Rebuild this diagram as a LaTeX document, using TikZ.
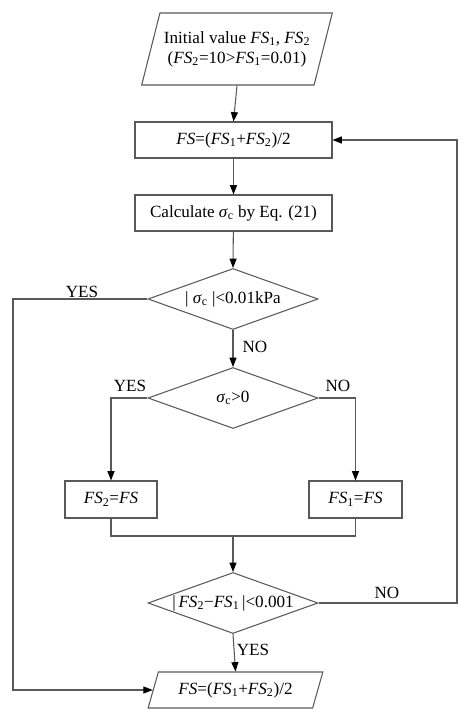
\documentclass[tikz,border=0pt]{standalone}
\usepackage{fontspec}
\setmainfont{Liberation Serif}
\usepackage{tikz}
\usetikzlibrary{shapes.geometric, arrows.meta}

\newcommand{\fsv}[1]{\textit{FS}\textsubscript{#1}}
\newcommand{\sgc}{\textit{σ}\textsubscript{c}}

\begin{document}
\begin{tikzpicture}[x=0.03cm, y=-0.03cm,
    font=\fontsize{14.6}{17}\selectfont,
    line/.style={draw=black!65, line width=0.9pt},
    arr/.style={line, -{Triangle[length=8pt, width=6pt, color=black]}},
    procbox/.style={line, rectangle, inner sep=0pt, minimum height=1.08cm},
    iobox/.style={line, trapezium, trapezium left angle=64, trapezium right angle=116,
                  trapezium stretches=true, inner sep=0pt},
    testbox/.style={line, diamond, inner sep=0pt, minimum width=5.1cm, minimum height=1.83cm},
    tag/.style={inner sep=1pt}]
    \useasboundingbox (0,0) rectangle (474,718);

    % boxes
    \node[iobox, minimum width=5.73cm, minimum height=2.16cm, align=center] (init) at (237,49)
        {Initial value \fsv{1}, \fsv{2}\\(\fsv{2}=10>\fsv{1}=0.01)};
    \node[procbox, minimum width=5.91cm] (avg) at (233.5,140) {\textit{FS}=(\fsv{1}+\fsv{2})/2};
    \node[procbox, minimum width=5.91cm] (calc) at (233.5,213) {Calculate \sgc{} by Eq. (21)};
    \node[testbox, label=center:{| \sgc{} |<0.01kPa}] (chk1) at (233,299) {};
    \node[testbox, label=center:{\sgc{}>0}] (chk2) at (233,398) {};
    \node[procbox, minimum width=2.76cm, minimum height=1.11cm] (fs2) at (111,499.5) {\fsv{2}=\textit{FS}};
    \node[procbox, minimum width=2.79cm, minimum height=1.11cm] (fs1) at (355.5,499.5) {\fsv{1}=\textit{FS}};
    \node[testbox, label=center:{|\,\fsv{2}−\fsv{1}\,|<0.001}] (chk3) at (233,603) {};
    \node[iobox, minimum width=5.25cm, minimum height=1.08cm] (result) at (235.5,690)
        {\textit{FS}=(\fsv{1}+\fsv{2})/2};

    \coordinate (merge) at (233,536);
    \coordinate (yesleft) at (13,299);
    \coordinate (noright) at (457,603);

    % connectors
    \draw[arr] (init.south) -- (avg.north);
    \draw[arr] (avg) -- (calc);
    \draw[arr] (calc) -- (chk1.north);
    \draw[arr] (chk1.west) -- (yesleft) |- (result.west);
    \draw[arr] (chk1.south) -- (chk2.north);
    \draw[arr] (chk2.west) -| (fs2.north);
    \draw[arr] (chk2.east) -| (fs1.north);
    \draw[line] (fs2.south) |- (merge) -| (fs1.south);
    \draw[arr] (merge) -- (chk3.north);
    \draw[arr] (chk3.south) -- (result.north);
    \draw[arr] (chk3.east) -- (noright) |- (avg.east);

    % branch labels
    \node[tag] (yes1) at (82,292) {YES};
    \node[tag] (no1) at (255,347) {NO};
    \node[tag] (yes2) at (130,386) {YES};
    \node[tag] (no2) at (338,386) {NO};
    \node[tag] (no3) at (387,593) {NO};
    \node[tag] (yes3) at (253,650) {YES};
\end{tikzpicture}
\end{document}
